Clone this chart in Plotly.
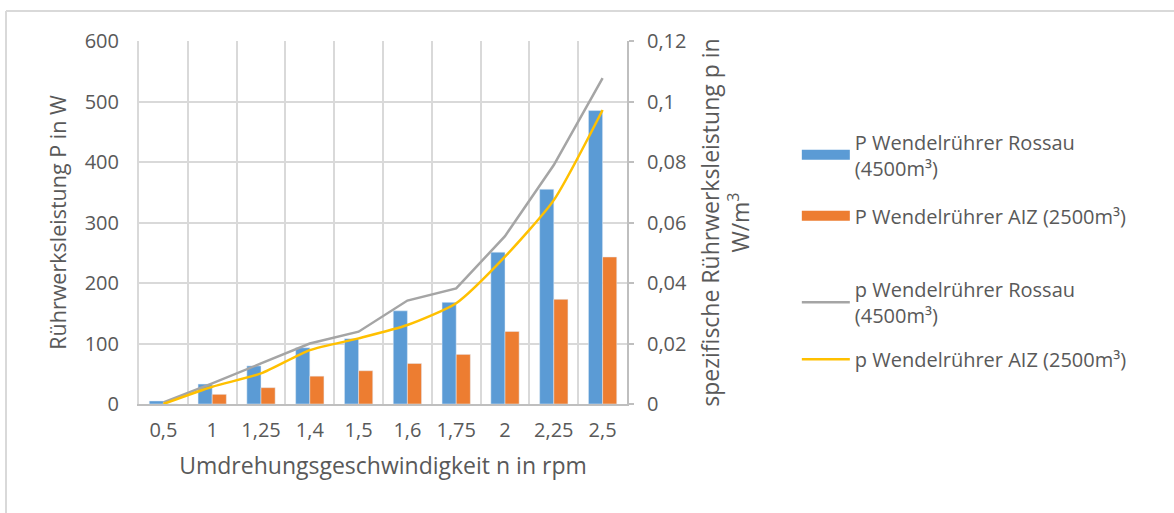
import plotly.graph_objects as go

# Rotational speed categories (rpm)
speeds = ["0,5", "1", "1,25", "1,4", "1,5", "1,6", "1,75", "2", "2,25", "2,5"]

# Stirrer power P in W
power_rossau = [5, 33, 63, 93, 108, 154, 168, 251, 355, 485]
power_aiz = [0, 16, 27, 46, 55, 67, 82, 120, 173, 243]

# Specific stirrer power p in W/m³
spec_rossau = [0.0005, 0.0068, 0.0134, 0.0200, 0.0239, 0.0342, 0.0382, 0.0555, 0.0790, 0.1077]
spec_aiz = [0.0, 0.0057, 0.0101, 0.0178, 0.0217, 0.0261, 0.0333, 0.0487, 0.0674, 0.0972]

BLUE = "#5b9bd5"
ORANGE = "#ed7d31"
GREY = "#a5a5a5"
YELLOW = "#ffc000"
TEXT = "#595959"
GRID = "#d9d9d9"
FONT = "Open Sans, Lato, sans-serif"

name_p_rossau = "P Wendelrührer Rossau<br>(4500m³)"
name_p_aiz = "P Wendelrührer AIZ (2500m³)"
name_s_rossau = "p Wendelrührer Rossau<br>(4500m³)"
name_s_aiz = "p Wendelrührer AIZ (2500m³)"

fig = go.Figure()

fig.add_trace(go.Bar(x=speeds, y=power_rossau, marker_color=BLUE, name=name_p_rossau,
                     showlegend=False))
fig.add_trace(go.Bar(x=speeds, y=power_aiz, marker_color=ORANGE, name=name_p_aiz,
                     showlegend=False))

# Wide block legend keys for the bar series
fig.add_trace(go.Scatter(x=[None], y=[None], mode="lines", line=dict(color=BLUE, width=12),
                         name=name_p_rossau, legend="legend", legendgroup="a"))
fig.add_trace(go.Scatter(x=[None], y=[None], mode="lines", line=dict(color=ORANGE, width=12),
                         name=name_p_aiz, legend="legend", legendgroup="b"))

fig.add_trace(go.Scatter(x=speeds, y=spec_rossau, mode="lines", yaxis="y2",
                         line=dict(color=GREY, width=2.5), name=name_s_rossau,
                         legend="legend2", legendgroup="c"))
fig.add_trace(go.Scatter(x=speeds, y=spec_aiz, mode="lines", yaxis="y2",
                         line=dict(color=YELLOW, width=2.5, shape="spline", smoothing=0.6),
                         name=name_s_aiz, legend="legend2", legendgroup="d"))

legend_style = dict(
    xanchor="left", yanchor="top", traceorder="grouped", itemwidth=48,
    font=dict(size=20, color=TEXT), bgcolor="rgba(0,0,0,0)",
)

fig.update_layout(
    width=1174, height=513,
    margin=dict(l=139, r=547, t=41, b=109),
    paper_bgcolor="white", plot_bgcolor="white",
    font=dict(family=FONT, size=20, color=TEXT),
    separators=", ",
    barmode="group", bargap=0.42, bargroupgap=0,
    xaxis=dict(
        type="category", tickson="boundaries", showgrid=True, gridcolor=GRID, gridwidth=2,
        showline=True, linecolor="#bfbfbf", linewidth=2, ticks="",
        tickfont=dict(size=20, color=TEXT), ticklabelstandoff=7,
        title=dict(text="Umdrehungsgeschwindigkeit n in rpm", font=dict(size=23, color=TEXT), standoff=16),
    ),
    yaxis=dict(
        range=[0, 600], dtick=100, showgrid=True, gridcolor=GRID, gridwidth=2,
        showline=True, linecolor=GRID, linewidth=2, zeroline=False, ticks="",
        tickfont=dict(size=20, color=TEXT), ticklabelstandoff=14,
        title=dict(text="Rührwerksleistung P in W", font=dict(size=21.5, color=TEXT), standoff=12),
    ),
    yaxis2=dict(
        overlaying="y", side="right", range=[0, 0.12], dtick=0.02, showgrid=False,
        showline=True, linecolor="#bfbfbf", linewidth=2, zeroline=False,
        ticks="outside", ticklen=5, tickcolor="#bfbfbf", tickwidth=2,
        tickfont=dict(size=20, color=TEXT), ticklabelstandoff=9,
        title=dict(text="spezifische Rührwerksleistung p in<br>W/m<sup>3</sup>",
                   font=dict(size=23, color=TEXT), standoff=17),
    ),
    legend=dict(x=1.348, y=0.776, tracegroupgap=19, **legend_style),
    legend2=dict(x=1.348, y=0.37, tracegroupgap=15, **legend_style),
    shapes=[
        # light outer frame (top and left edges)
        dict(type="line", xref="paper", yref="paper", x0=-133 / 488, x1=1040 / 488,
             y0=(404 - 11) / 363, y1=(404 - 11) / 363, line=dict(color=GRID, width=2)),
        dict(type="line", xref="paper", yref="paper", x0=-133 / 488, x1=-133 / 488,
             y0=(404 - 11) / 363, y1=-110 / 363, line=dict(color=GRID, width=2)),
    ],
)

fig.write_html("out.html")
